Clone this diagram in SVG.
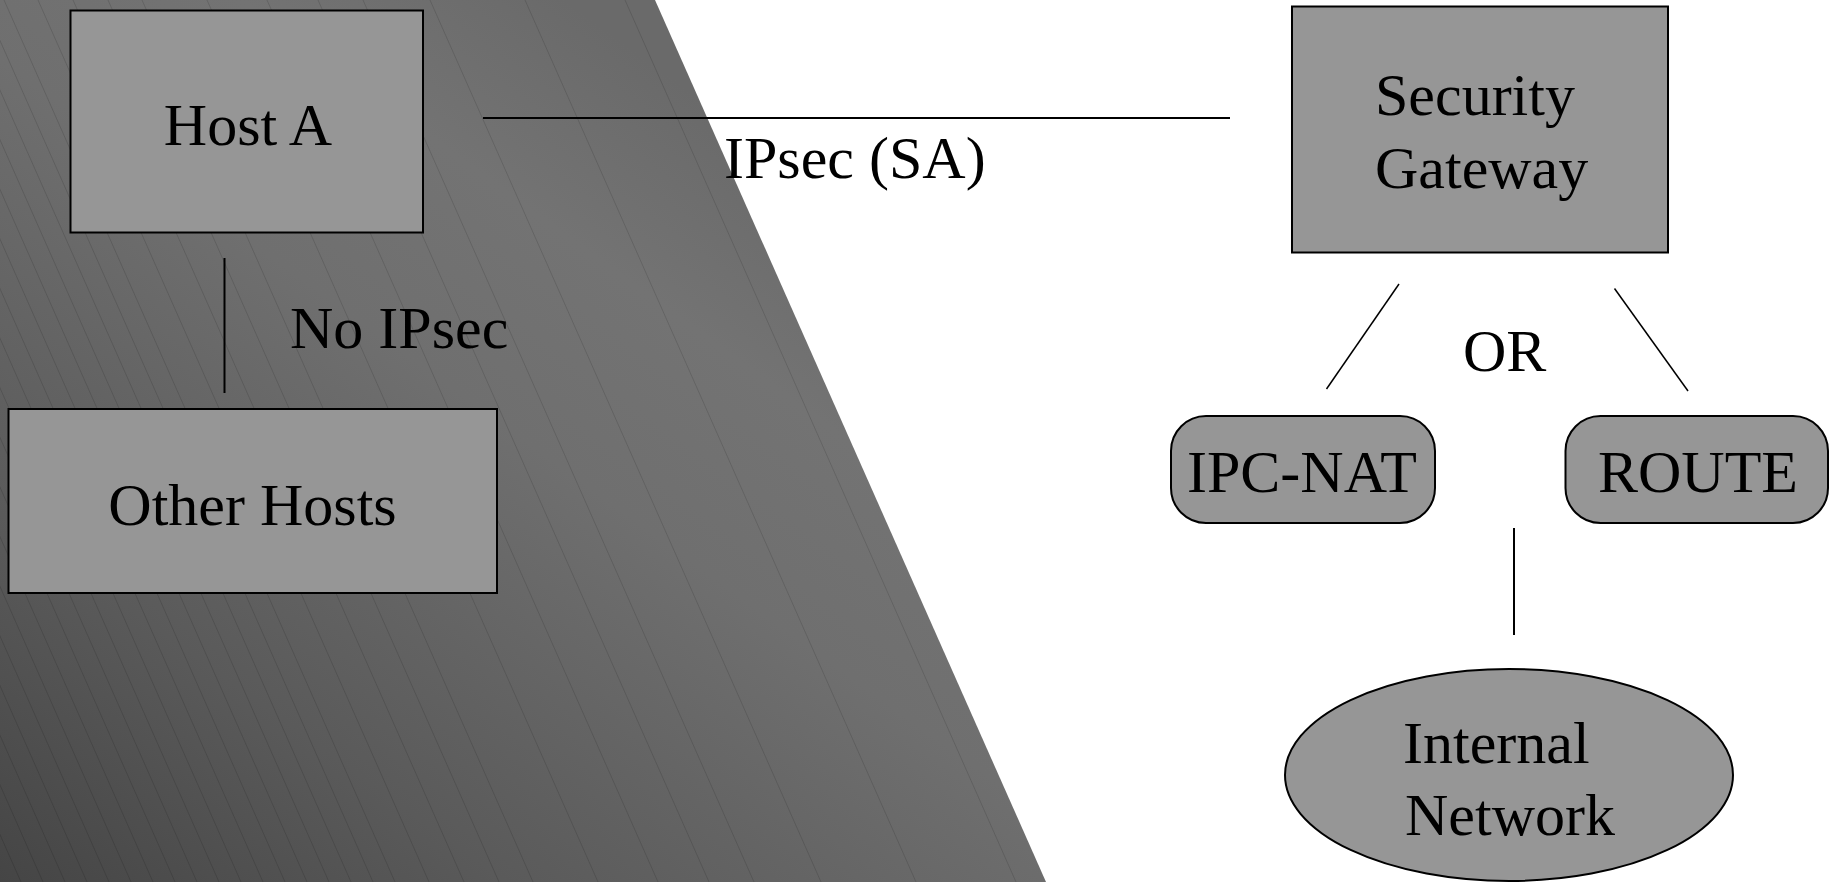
<svg xmlns="http://www.w3.org/2000/svg" width="1837" height="882" viewBox="0 0 1837 882">
  <style>
    .box { fill: #969696; stroke: #000; stroke-width: 2; }
    .wire { stroke: #000; stroke-width: 2; fill: none; }
    .thin { stroke: #000; stroke-width: 1.5; fill: none; }
    .lbl { font-family: "Liberation Serif", "Times New Roman", serif; font-size: 60px; fill: #000; }
    .mid { text-anchor: middle; }
    .band { stroke: #000; stroke-opacity: 0.13; stroke-width: 1; }
  </style>
  <defs>
    <!-- dark slanted backdrop, shading runs across the slant -->
    <linearGradient id="shade" gradientUnits="userSpaceOnUse" x1="-150" y1="948" x2="547" y2="-13">
      <stop offset="0" stop-color="#3b3b3b"/>
      <stop offset="0.37" stop-color="#5a5a5a"/>
      <stop offset="0.68" stop-color="#6f6f6f"/>
      <stop offset="0.84" stop-color="#737373"/>
      <stop offset="1" stop-color="#6a6a6a"/>
    </linearGradient>
    <clipPath id="slab">
      <polygon points="0,0 655,0 1046,882 0,882"/>
    </clipPath>
  </defs>

  <rect width="1837" height="882" fill="#fff"/>

  <!-- backdrop -->
  <g id="backdrop">
    <polygon points="0,0 655,0 1046,882 0,882" fill="url(#shade)"/>
    <g clip-path="url(#slab)">
      <path class="band" d="M-370,0 l391,882 M-348,0 l391,882 M-326,0 l391,882 M-304,0 l391,882 M-282,0 l391,882 M-260,0 l391,882 M-238,0 l391,882 M-216,0 l391,882 M-194,0 l391,882 M-172,0 l391,882 M-150,0 l391,882 M-128,0 l391,882 M-106,0 l391,882 M-84,0 l391,882 M-62,0 l391,882 M-40,0 l391,882 M-18,0 l391,882 M4,0 l391,882 M38,0 l391,882 M73,0 l391,882 M108,0 l391,882 M142,0 l391,882 M207,0 l391,882 M267,0 l391,882 M318,0 l391,882 M363,0 l391,882 M430,0 l391,882 M525,0 l391,882 M625,0 l391,882"/>
    </g>
  </g>

  <!-- connectors -->
  <g id="connectors">
    <line class="wire" x1="483" y1="118" x2="1230" y2="118"/>
    <line class="wire" x1="224.5" y1="258" x2="224.5" y2="393"/>
    <line class="thin" x1="1399" y1="284" x2="1326.5" y2="389"/>
    <line class="thin" x1="1614.5" y1="288.5" x2="1688" y2="391"/>
    <line class="wire" x1="1514" y1="528" x2="1514" y2="635"/>
    <text class="lbl" x="724" y="178">IPsec (SA)</text>
    <text class="lbl" x="290" y="348">No IPsec</text>
    <text class="lbl" x="1463" y="371">OR</text>
  </g>

  <g id="host-a">
    <rect class="box" x="70.5" y="10.5" width="352.5" height="222"/>
    <text class="lbl mid" x="248" y="145">Host A</text>
  </g>

  <g id="other-hosts">
    <rect class="box" x="8.5" y="409" width="488.5" height="184"/>
    <text class="lbl mid" x="252.5" y="525">Other Hosts</text>
  </g>

  <g id="security-gateway">
    <rect class="box" x="1292" y="6.5" width="376" height="246"/>
    <text class="lbl" x="1375" y="115">Security</text>
    <text class="lbl" x="1375" y="188">Gateway</text>
  </g>

  <g id="ipc-nat">
    <rect class="box" x="1171" y="416" width="264" height="107" rx="35" ry="35"/>
    <text class="lbl mid" x="1302" y="492">IPC-NAT</text>
  </g>

  <g id="route">
    <rect class="box" x="1565.5" y="416" width="262.5" height="107" rx="35" ry="35"/>
    <text class="lbl mid" x="1698" y="492">ROUTE</text>
  </g>

  <g id="internal-network">
    <ellipse class="box" cx="1509" cy="775" rx="224" ry="106"/>
    <text class="lbl" x="1403" y="763">Internal</text>
    <text class="lbl" x="1405" y="835">Network</text>
  </g>
</svg>
